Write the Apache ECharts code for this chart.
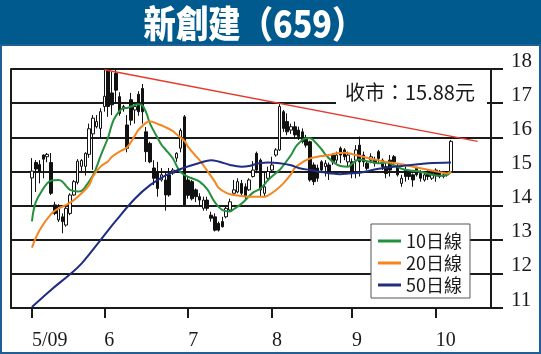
<!DOCTYPE html>
<html><head><meta charset="utf-8">
<script src="https://cdn.jsdelivr.net/npm/echarts@6/dist/echarts.min.js"></script>
<style>html,body{margin:0;padding:0;background:#fff}#c{width:541px;height:354px}</style>
</head><body><div id="c"></div>
<script>
// ---- data ----
const titleText = '新創建（659）';
const monthLabels = ['5/09', '6', '7', '8', '9', '10'];
const monthStartDay = [0, 19, 41, 63, 84, 106];
const yMin = 11, yMax = 18, yStep = 1;
// daily candles: [open, close, low, high]
const ohlc = [
[14.81,15.01,14.02,15.39],[15.26,15.07,14.40,15.33],[15.20,15.00,14.65,15.33],[15.48,15.36,14.80,15.50],
[15.43,15.50,15.27,15.54],[15.26,14.36,14.31,15.54],[14.02,13.77,13.72,14.11],[13.58,13.97,13.52,14.04],
[13.67,13.53,13.19,13.77],[13.43,13.92,13.38,13.97],[13.77,14.31,13.72,14.36],[14.31,14.70,14.28,14.75],
[14.68,15.30,14.62,15.36],[15.15,15.32,15.00,15.36],[15.15,15.53,14.88,15.56],[15.50,16.25,15.40,16.40],
[16.10,16.56,15.05,16.65],[16.31,16.46,16.26,16.65],[16.26,16.75,16.00,16.85],[16.90,17.20,16.75,17.99],
[17.95,16.90,16.60,18.00],[17.30,16.95,16.65,17.92],[17.87,17.38,16.99,17.97],[17.19,16.70,16.63,17.32],
[16.83,16.90,16.75,16.95],[16.36,15.68,15.56,16.65],[17.10,16.50,16.35,17.30],[16.80,16.90,16.40,17.00],
[17.26,16.75,16.63,17.35],[17.43,16.75,16.40,17.56],[16.16,15.58,15.28,16.30],[15.82,15.28,15.24,15.87],
[15.10,14.80,14.60,15.33],[15.00,14.50,14.26,15.28],[14.75,14.90,14.70,15.10],[14.75,14.31,13.85,15.00],
[14.90,14.31,14.26,15.10],[14.95,15.04,14.90,15.10],[15.39,15.53,15.28,15.56],[15.68,16.20,15.56,16.26],
[16.60,14.02,13.98,16.65],[14.75,14.30,14.20,14.85],[14.70,14.20,14.15,14.75],[14.46,14.26,14.10,14.50],
[14.26,14.16,13.97,14.36],[13.92,14.16,13.85,14.26],[14.16,13.92,13.85,14.26],[13.72,13.63,13.53,13.82],
[13.67,13.28,13.24,13.77],[13.48,13.28,13.24,13.53],[13.53,13.38,13.36,13.67],[13.67,13.92,13.63,13.97],
[13.87,14.11,13.82,14.20],[14.36,14.46,14.36,14.75],[14.40,14.70,14.36,14.80],[14.65,14.36,14.26,14.75],
[14.55,14.26,14.16,14.65],[14.46,14.75,14.43,14.80],[14.85,15.04,14.82,15.30],[15.53,15.04,14.95,15.58],
[15.33,14.46,14.26,15.38],[14.36,14.55,14.26,15.00],[14.80,15.00,14.75,15.14],[15.04,15.19,15.00,15.43],
[15.48,15.63,15.43,15.68],[15.63,16.90,15.60,17.00],[16.75,16.26,16.16,16.80],[16.46,16.16,16.06,16.70],
[16.21,16.31,16.10,16.40],[16.31,16.07,15.97,16.46],[16.21,16.02,15.92,16.31],[16.16,15.87,15.82,16.26],
[15.97,15.77,15.70,16.07],[15.87,14.75,14.70,15.90],[15.19,14.70,14.60,15.26],[15.10,14.80,14.70,15.20],
[15.28,15.04,14.95,15.33],[15.14,15.24,14.85,15.33],[15.19,14.99,14.75,15.26],[15.48,15.28,15.19,15.53],
[15.33,15.48,15.24,15.58],[15.68,15.48,15.24,15.73],[15.63,15.43,15.33,15.68],[15.28,15.48,15.14,15.58],
[15.28,15.00,14.80,15.38],[15.33,15.63,14.80,15.77],[15.77,15.28,14.85,16.02],[15.48,15.28,15.14,15.58],
[15.24,15.09,15.04,15.33],[15.33,15.43,15.24,15.53],[15.33,15.24,15.14,15.43],[15.58,15.38,15.24,15.63],
[15.33,15.14,15.04,15.38],[15.14,14.94,14.80,15.24],[15.33,15.04,14.85,15.48],[15.43,15.28,15.14,15.48],
[15.14,14.90,14.85,15.24],[14.65,14.80,14.55,14.90],[15.04,14.85,14.70,15.14],[14.99,14.85,14.75,15.04],
[14.90,14.75,14.55,14.94],[15.09,14.90,14.85,15.14],[14.94,14.80,14.70,15.04],[14.75,14.90,14.70,15.00],
[14.99,14.85,14.75,15.04],[14.80,14.94,14.75,15.04],[15.04,14.90,14.70,15.09],[14.99,14.85,14.80,15.04],
[14.85,14.90,14.80,14.99],[14.90,14.95,14.85,15.00],[14.99,15.88,14.95,15.92]
];
// moving averages: [tradingDay, value]
const ma10 = [[0,13.54],[1,14.1],[3,14.5],[4,14.65],[5,14.73],[7,14.75],[8,14.7],[9,14.57],[10,14.46],[12,14.41],[13,14.43],[14,14.55],[16,14.88],[17,15.14],[18,15.45],[20,16.0],[21,16.38],[22,16.62],[24,16.85],[25,16.86],[26,16.9],[28,16.97],[29,16.93],[30,16.72],[31,16.4],[33,15.98],[34,15.78],[35,15.65],[37,15.38],[38,15.16],[39,14.98],[41,14.84],[42,14.8],[44,14.7],[46,14.48],[48,14.1],[50,13.87],[52,13.83],[53,13.9],[55,14.05],[58,14.38],[60,14.5],[62,14.75],[64,14.95],[65,15.04],[66,15.18],[68,15.48],[69,15.68],[70,15.82],[72,15.97],[73,15.97],[74,15.9],[76,15.65],[77,15.5],[79,15.28],[81,15.16],[83,15.14],[84,15.22],[86,15.35],[88,15.3],[90,15.25],[91,15.24],[93,15.26],[95,15.18],[97,15.08],[98,15.05],[100,15.02],[102,14.99],[104,14.93],[105,14.9],[107,14.87],[108,14.87],[109,14.9],[110,14.99]];
const ma20 = [[0,12.77],[2,13.28],[5,13.75],[7,13.92],[9,14.02],[11,14.16],[13,14.36],[15,14.6],[16,14.85],[18,15.14],[20,15.3],[21,15.43],[23,15.58],[25,15.71],[27,16.05],[28,16.22],[30,16.43],[31,16.46],[33,16.39],[35,16.3],[37,16.18],[38,16.08],[40,15.9],[41,15.72],[43,15.45],[44,15.33],[46,15.02],[48,14.7],[49,14.52],[51,14.37],[53,14.31],[55,14.28],[58,14.26],[61,14.26],[62,14.3],[64,14.45],[66,14.65],[68,14.92],[69,15.1],[71,15.27],[73,15.38],[75,15.43],[76,15.45],[78,15.48],[80,15.53],[82,15.55],[83,15.53],[85,15.48],[90,15.35],[93,15.28],[97,15.21],[100,15.14],[104,15.05],[107,14.98],[109,14.94],[110,15.0]];
const ma50 = [[0,11.03],[5,11.53],[10,11.99],[13,12.3],[18,12.99],[22,13.55],[27,14.2],[31,14.6],[35,14.88],[40,15.11],[44,15.25],[47,15.33],[49,15.29],[52,15.19],[55,15.14],[57,15.16],[60,15.25],[62,15.26],[65,15.24],[68,15.18],[70,15.1],[73,15.04],[76,14.98],[78,14.95],[81,14.92],[83,14.94],[86,14.96],[91,15.08],[97,15.16],[102,15.22],[104,15.24],[110,15.26]];
const trendLine = [[19, 17.98], [117, 15.88]];
const maNames = ['10日線', '20日線', '50日線'];

// ---- chart ----
const PAD = 5, TOTAL = 126;
const cats = [];
for (let k = 0; k < TOTAL; k++) cats.push('c' + k);
const isMonth = (idx) => monthStartDay.indexOf(idx - PAD) >= 0;
const shift = (arr) => arr.map(p => [p[0] + PAD, p[1]]);
const lastClose = ohlc[ohlc.length - 1][1];
const closeText = '收市：' + lastClose.toFixed(2) + '元';
const ink = '#1a1a1a';
const maColors = ['#23903c', '#f5861f', '#1e2c82'];

const chart = echarts.init(document.getElementById('c'), null, {renderer: 'canvas'});
chart.setOption({
  animation: false,
  backgroundColor: '#fff',
  grid: {left: 11, right: 50, top: 69, bottom: 46, containLabel: false},
  xAxis: {
    type: 'category', data: cats, boundaryGap: true,
    axisLine: {show: true, lineStyle: {color: ink, width: 2}},
    axisTick: {show: true, alignWithLabel: true, length: 10, interval: (i) => isMonth(i), lineStyle: {color: ink, width: 2}},
    axisLabel: {
      show: true, interval: (i) => isMonth(i), align: 'left', margin: 23,
      formatter: (v, i) => { const m = monthStartDay.indexOf(i - PAD); return m >= 0 ? monthLabels[m] : ''; },
      fontFamily: 'Liberation Serif', fontSize: 20, color: ink
    },
    splitLine: {show: false}
  },
  yAxis: [{
    type: 'value', position: 'right', min: yMin, max: yMax, interval: yStep,
    axisLine: {show: true, lineStyle: {color: ink, width: 2}},
    axisTick: {show: true, length: 12, lineStyle: {color: ink, width: 2}},
    axisLabel: {show: true, margin: 20, fontFamily: 'Liberation Serif', fontSize: 21, color: ink, verticalAlign: 'bottom', lineHeight: 16},
    splitLine: {show: true, lineStyle: {color: ink, width: 2}}
  }, {
    type: 'value', position: 'left', min: yMin, max: yMax, interval: yStep,
    axisLine: {show: true, lineStyle: {color: ink, width: 2}},
    axisTick: {show: false}, axisLabel: {show: false}, splitLine: {show: false}
  }],
  legend: {
    data: maNames.map(n => ({name: n, icon: 'rect'})),
    orient: 'vertical', left: 371, top: 224,
    itemWidth: 23, itemHeight: 3, itemGap: 0,
    padding: [6, 8, 2, 7],
    backgroundColor: '#fff', borderColor: '#555', borderWidth: 1,
    textStyle: {fontFamily: 'Noto Sans CJK TC', fontSize: 18, color: ink, lineHeight: 22, padding: [0, 0, 0, 0]},
    z: 20
  },
  series: [
    {
      type: 'candlestick', name: 'k', barWidth: 3,
      data: ohlc.map((r, i) => [i + PAD, r[0], r[1], r[2], r[3]]),
      encode: {x: 0, y: [1, 2, 3, 4]},
      itemStyle: {color: '#fff', color0: '#111', borderColor: '#111', borderColor0: '#111', borderWidth: 1},
      z: 2
    },
    {type: 'line', name: maNames[0], data: shift(ma10), smooth: 0.4, symbol: 'none', lineStyle: {color: maColors[0], width: 2}, itemStyle: {color: maColors[0]}, z: 4},
    {type: 'line', name: maNames[1], data: shift(ma20), smooth: 0.4, symbol: 'none', lineStyle: {color: maColors[1], width: 2}, itemStyle: {color: maColors[1]}, z: 4},
    {type: 'line', name: maNames[2], data: shift(ma50), smooth: 0.4, symbol: 'none', lineStyle: {color: maColors[2], width: 2}, itemStyle: {color: maColors[2]}, z: 4},
    {type: 'line', name: 'trend', data: shift(trendLine), symbol: 'none', lineStyle: {color: '#e53a2c', width: 1.5}, z: 5}
  ],
  graphic: [
    {type: 'rect', shape: {x: 0, y: 0, width: 541, height: 46}, style: {fill: '#005a8e'}, z: 30},
    {type: 'text', x: 254, y: 24, scaleY: 1.12, scaleX: 0.98, z: 31, style: {text: titleText, fill: '#fff', font: '900 33px "Noto Sans CJK TC"', textAlign: 'center', textVerticalAlign: 'middle'}},
    {type: 'rect', shape: {x: 1, y: 45, width: 539, height: 308}, style: {fill: 'none', stroke: '#1f5f95', lineWidth: 2}, z: 30},
    {type: 'rect', shape: {x: 336, y: 76, width: 151, height: 31}, style: {fill: '#fff'}, z: 10},
    {type: 'text', x: 345, y: 92, z: 11, style: {text: closeText, fill: ink, font: '20px "Noto Sans CJK TC"', textAlign: 'left', textVerticalAlign: 'middle'}}
  ]
});
</script></body></html>
